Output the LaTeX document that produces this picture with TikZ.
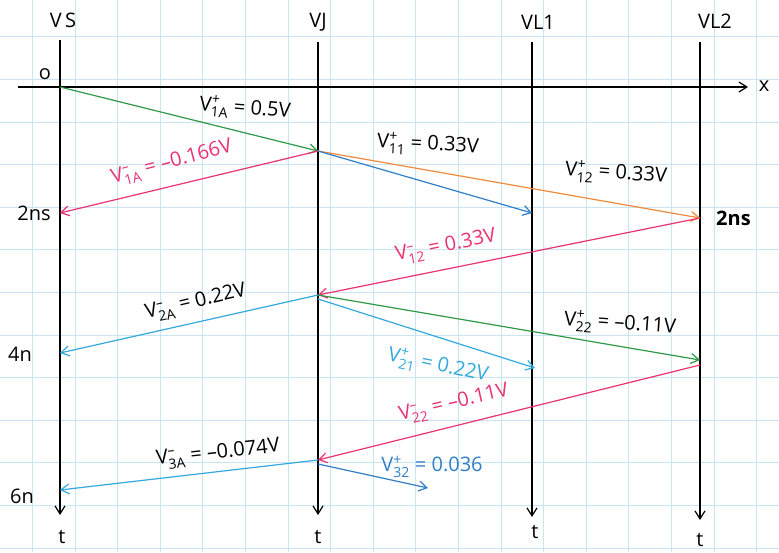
\documentclass[tikz,border=0pt]{standalone}
\usepackage{amsmath}
\usepackage{fontspec}
\setmainfont{Open Sans}
\usetikzlibrary{arrows.meta}
\definecolor{gridc}{HTML}{C9E4F2}
\definecolor{cgreen}{HTML}{2E9A48}
\definecolor{cpink}{HTML}{E8336F}
\definecolor{corange}{HTML}{F08A3A}
\definecolor{cblue}{HTML}{2F7FC8}
\definecolor{ccyan}{HTML}{33AADD}
\newcommand\lab[2]{V\ensuremath{_{\text{#1}}^{\text{#2}}}}
\tikzset{
  axis/.style={line width=1.2pt, black, -{Straight Barb[length=8pt,width=10pt]}},
  wave/.style={line width=1.2pt, -{Straight Barb[length=8pt,width=10pt]}},
  txt/.style={font=\fontsize{20}{22}\selectfont, inner sep=0pt},
}
\begin{document}
\begin{tikzpicture}[x=1pt,y=-1pt]
\useasboundingbox (0,0) rectangle (779,552);
\fill[white] (0,0) rectangle (779,552);
% grid
\foreach \k in {0,...,18} {
  \draw[gridc, line width=0.6pt] ({32.3+42.6*\k},0) -- ({32.3+42.6*\k},552);
}
\foreach \k in {-1,...,12} {
  \draw[gridc, line width=0.6pt] (0,{36.7+42.6*\k}) -- (779,{36.7+42.6*\k});
}
% axis endpoints
\coordinate (xa) at (18,87);
\coordinate (xb) at (748,87);
\coordinate (st) at (60,40);   \coordinate (sb) at (60,515);
\coordinate (jt) at (318,42);  \coordinate (jb) at (318,515);
\coordinate (l1t) at (532,42); \coordinate (l1b) at (532,517);
\coordinate (l2t) at (700,42); \coordinate (l2b) at (700,520);
\draw[axis] (xa) -- (xb);
\draw[axis] (st) -- (sb);
\draw[axis] (jt) -- (jb);
\draw[axis] (l1t) -- (l1b);
\draw[axis] (l2t) -- (l2b);
% labels on axes
\node[txt] (lvs) at (63,20) {V\,S};
\node[txt] (lvj) at (318,22) {VJ};
\node[txt] (lvl1) at (538,22) {VL1};
\node[txt] (lvl2) at (715,21) {VL2};
\node[txt] (lx) at (764,86) {x};
\node[txt] (lo) at (45,74) {o};
\node[txt] (l2ns) at (34,213) {2ns};
\node[txt] (l4n) at (20,354) {4n};
\node[txt] (l6n) at (22,496) {6n};
\node[txt, font=\fontsize{20}{22}\selectfont\bfseries, anchor=west] (l2nsr) at (716,218) {2ns};
\node[txt] (t1) at (62,537) {t};
\node[txt] (t2) at (318,537) {t};
\node[txt] (t3) at (535,532) {t};
\node[txt] (t4) at (700,540) {t};
% event points
\coordinate (S0) at (60,87);
\coordinate (J1) at (318,151);
\coordinate (S2) at (60,213);
\coordinate (A1) at (532,213);
\coordinate (B1) at (700,218);
\coordinate (J2) at (318,295);
\coordinate (J2b) at (318,299);
\coordinate (S4) at (60,353);
\coordinate (A2) at (535,368);
\coordinate (B2) at (700,360);
\coordinate (B2b) at (700,365);
\coordinate (J3) at (318,460);
\coordinate (J3b) at (318,464);
\coordinate (S6) at (60,490);
\coordinate (E) at (428,488);
% waves
\draw[wave, cgreen] (S0) -- (J1);
\draw[wave, cpink] (J1) -- (S2);
\draw[wave, corange] (J1) -- (B1);
\draw[wave, cblue] (J1) -- (A1);
\draw[wave, cpink] (B1) -- (J2);
\draw[wave, ccyan] (J2) -- (S4);
\draw[wave, cgreen] (J2) -- (B2);
\draw[wave, ccyan] (J2b) -- (A2);
\draw[wave, cpink] (B2b) -- (J3);
\draw[wave, ccyan] (J3) -- (S6);
\draw[wave, cblue] (J3b) -- (E);
% wave labels
\node[txt, rotate=-5] (n1) at (245,109) {\lab{1A}{+} = 0.5V};
\node[txt, cpink, rotate=15] (n2) at (172,163) {\lab{1A}{--} = --0.166V};
\node[txt, rotate=-3] (n3) at (428,145) {\lab{11}{+} = 0.33V};
\node[txt, rotate=-4] (n4) at (616,174) {\lab{12}{+} = 0.33V};
\node[txt, cpink, rotate=11] (n5) at (446,247) {\lab{12}{--} = 0.33V};
\node[txt, rotate=13] (n6) at (196,303) {\lab{2A}{--} = 0.22V};
\node[txt, rotate=-4] (n7) at (620,324) {\lab{22}{+} = --0.11V};
\node[txt, ccyan, rotate=-12] (n8) at (438,366) {\lab{21}{+} = 0.22V};
\node[txt, cpink, rotate=13] (n9) at (454,404) {\lab{22}{--} = --0.11V};
\node[txt, rotate=6] (n10) at (218,454) {\lab{3A}{--} = --0.074V};
\node[txt, cblue] (n11) at (432,467) {\lab{32}{+} = 0.036};
\end{tikzpicture}
\end{document}
